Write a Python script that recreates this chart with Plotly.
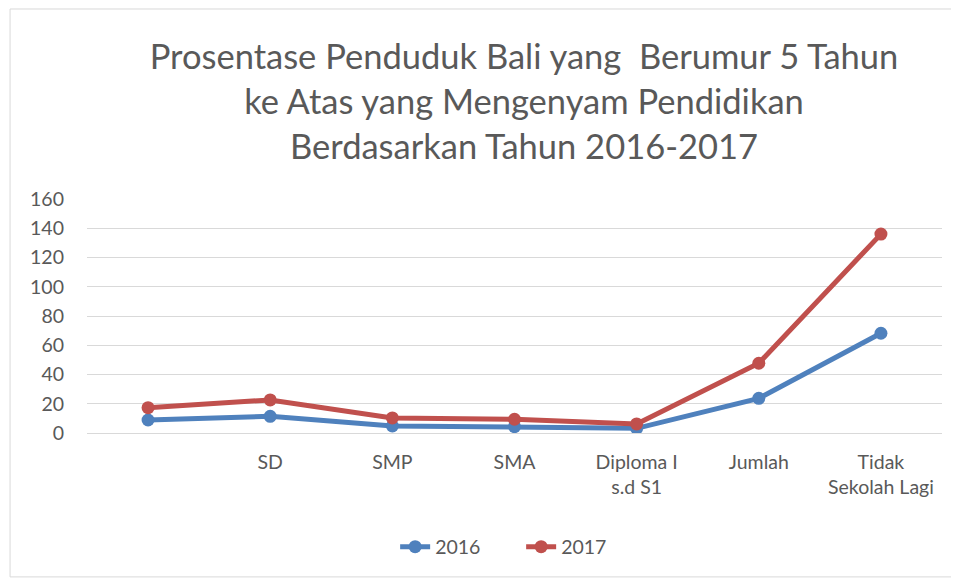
import plotly.graph_objects as go

categories = [" ", "SD", "SMP", "SMA", "Diploma I<br>s.d S1", "Jumlah", "Tidak<br>Sekolah Lagi"]
values_2016 = [8.9, 11.4, 4.8, 4.3, 3.2, 23.7, 68.2]
values_2017 = [17.3, 22.6, 10.3, 9.4, 6.2, 47.7, 136.0]
y_ticks = [0, 20, 40, 60, 80, 100, 120, 140, 160]

FONT = "Lato, 'Open Sans', sans-serif"
GREY = "#595959"

fig = go.Figure()

fig.add_trace(go.Scatter(
    x=categories, y=values_2016, name="2016",
    mode="lines+markers",
    line=dict(color="#4f81bd", width=5),
    marker=dict(color="#4f81bd", size=13),
))
fig.add_trace(go.Scatter(
    x=categories, y=values_2017, name="2017",
    mode="lines+markers",
    line=dict(color="#c0504d", width=5),
    marker=dict(color="#c0504d", size=13),
))

# light outer frame like the spreadsheet chart area
fig.add_shape(type="rect", xref="paper", yref="paper",
              x0=-0.090, x1=1.0187, y0=-0.615, y1=1.812,
              line=dict(color="#d9d9d9", width=1), layer="below")

# page body adds an 8px margin, so the figure is a bit smaller than the window
fig.update_layout(
    width=951, height=572,
    margin=dict(l=79, r=17, t=191, b=147, autoexpand=False),
    paper_bgcolor="white", plot_bgcolor="white",
    font=dict(family=FONT, color=GREY, size=19),
    title=dict(
        text="Prosentase Penduduk Bali yang  Berumur 5 Tahun<br>ke Atas yang Mengenyam Pendidikan<br>Berdasarkan Tahun 2016-2017",
        xref="container", yref="container", x=0.5426, y=0.8934,
        xanchor="center", yanchor="top",
        font=dict(family=FONT, size=34.5, color=GREY),
    ),
    xaxis=dict(
        type="category", range=[-0.5, 6.5],
        showgrid=False, showline=False, zeroline=False, ticks="",
        ticklabelstandoff=15,
        tickfont=dict(size=19.5, color=GREY),
    ),
    yaxis=dict(
        range=[0, 160], tickvals=y_ticks,
        showgrid=True, gridcolor="#d9d9d9", gridwidth=1.3,
        zeroline=True, zerolinecolor="#d9d9d9", zerolinewidth=1.3,
        showline=False, ticks="", ticklabelstandoff=22,
        tickfont=dict(size=19.5, color=GREY),
    ),
    legend=dict(
        orientation="h", x=0.3604, xanchor="left", y=-0.487, yanchor="middle",
        font=dict(size=19.5, color=GREY),
        entrywidth=81, entrywidthmode="pixels",
    ),
    showlegend=True,
)

fig.write_html("out.html")
